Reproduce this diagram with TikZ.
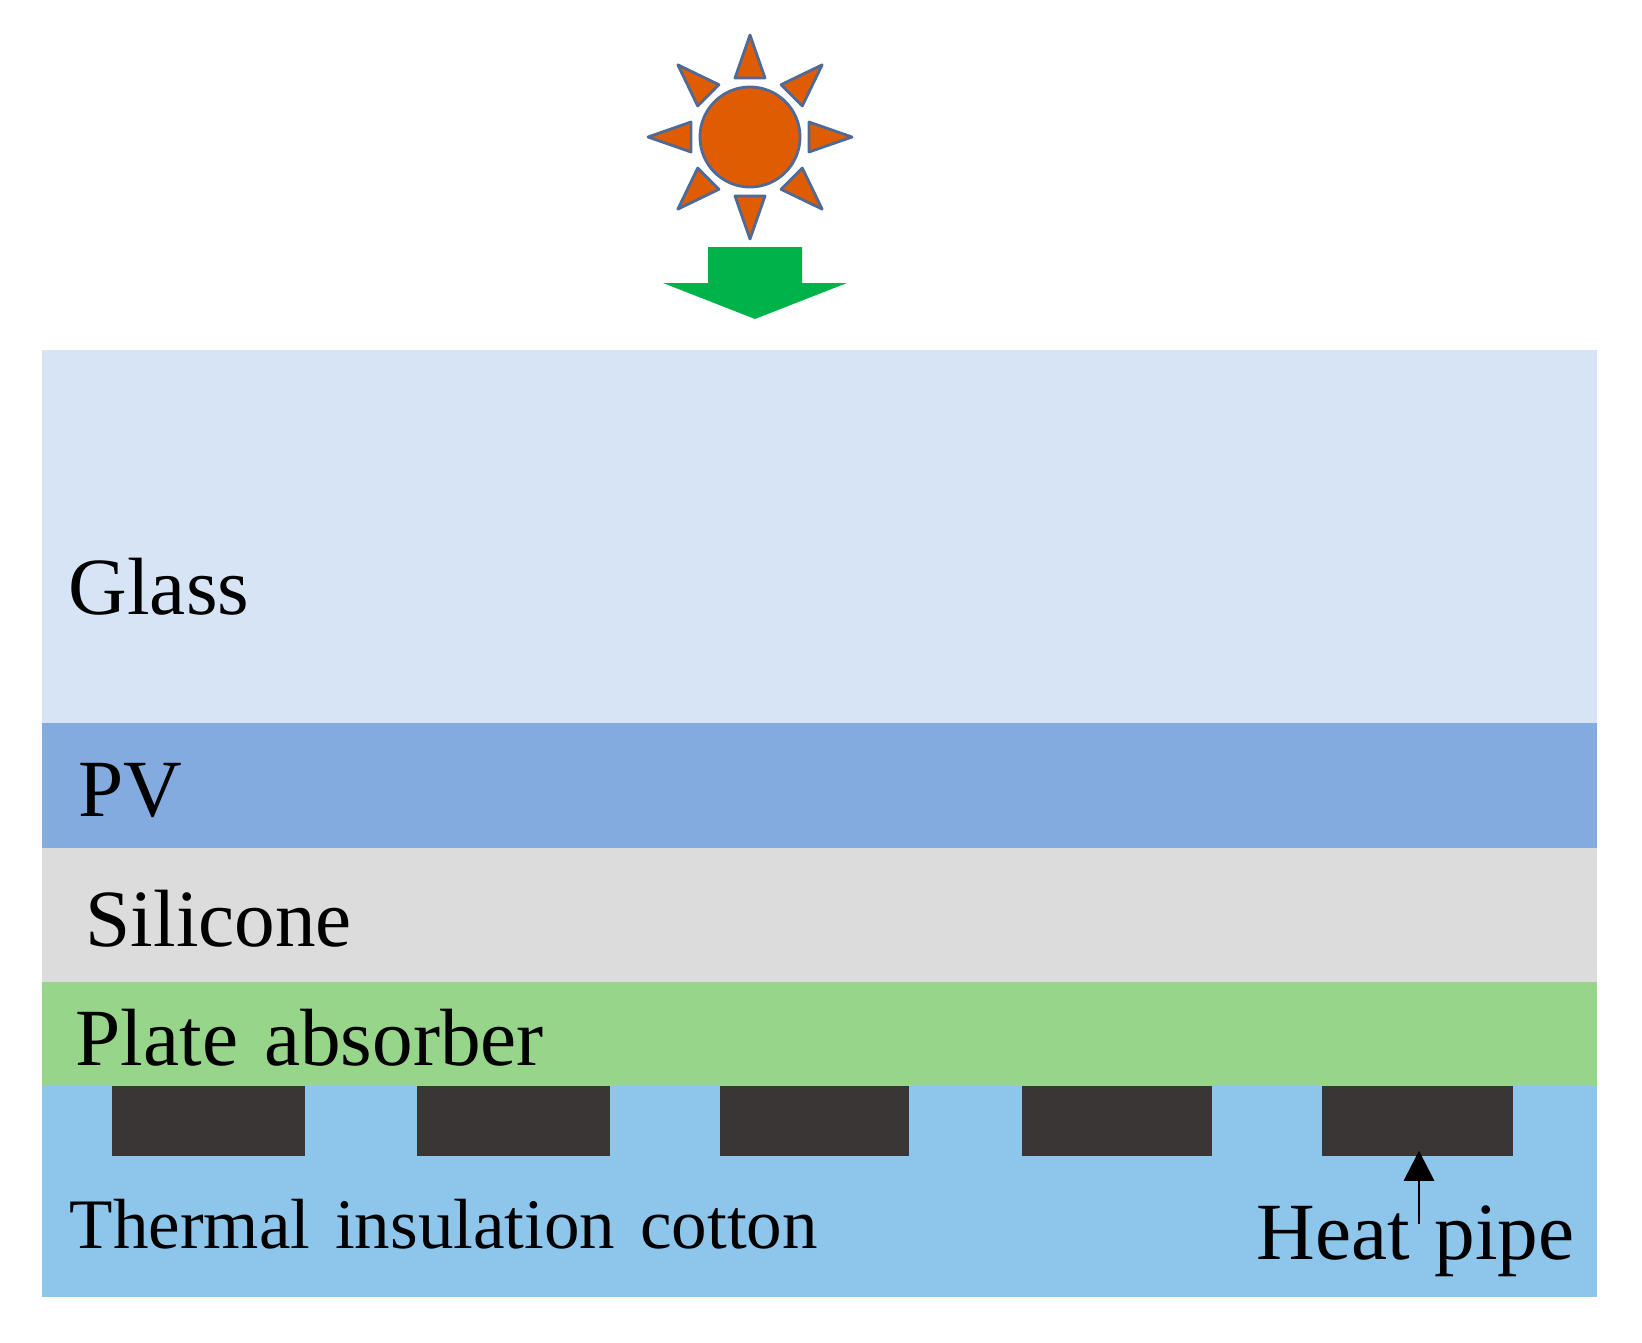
\documentclass[tikz,border=0pt]{standalone}
\usepackage{fontspec}
\setmainfont{Liberation Serif}
\usetikzlibrary{arrows.meta}
\definecolor{mglass}{HTML}{D6E4F5}
\definecolor{mpv}{HTML}{83ABE0}
\definecolor{msilicone}{HTML}{DCDCDC}
\definecolor{mplate}{HTML}{97D58B}
\definecolor{mcotton}{HTML}{8EC5EA}
\definecolor{mpipe}{HTML}{3A3635}
\definecolor{msun}{HTML}{E05C00}
\definecolor{mrim}{HTML}{4F6A96}
\definecolor{mgreen}{HTML}{00B24A}
\tikzset{label text/.style = {anchor=base west, inner sep=0, text=black,
                              font=\fontsize{23.1}{26}\selectfont},
         small text/.style = {label text, font=\fontsize{20.2}{24}\selectfont},
         heat pipe/.style = {fill=mpipe, inner sep=0, minimum height=0.7cm},
         sun ray/.style = {fill=msun, draw=mrim, line width=0.8pt, line join=round}}

\begin{document}
\begin{tikzpicture}[x=0.01cm, y=-0.01cm]
    \useasboundingbox (0, 0) rectangle (1642, 1342);

    \fill [mglass] (42, 350) rectangle (1597, 723);
    \fill [mpv] (42, 723) rectangle (1597, 848);
    \fill [msilicone] (42, 848) rectangle (1597, 982);
    \fill [mplate] (42, 982) rectangle (1597, 1086);
    \fill [mcotton] (42, 1086) rectangle (1597, 1297);

    \node [heat pipe, minimum width=1.93cm] (pipe1) at (208.5, 1121) {};
    \node [heat pipe, minimum width=1.93cm] (pipe2) at (513.5, 1121) {};
    \node [heat pipe, minimum width=1.89cm] (pipe3) at (814.5, 1121) {};
    \node [heat pipe, minimum width=1.90cm] (pipe4) at (1117, 1121) {};
    \node [heat pipe, minimum width=1.91cm] (pipe5) at (1417.5, 1121) {};

    \node [label text] (glass) at (68, 614) {Glass};
    \node [label text] (pv) at (78, 816) {PV};
    \node [label text] (silicone) at (85, 946) {Silicone};
    \node [label text] (plate) at (75, 1065) {Plate\ \hspace{.07em}absorber};
    \node [small text] (cotton) at (69, 1248) {Thermal\ \hspace{.1em}insulation\ \hspace{.1em}cotton};
    \node [label text] (heat) at (1256, 1259) {Heat\ \hspace{.05em}pipe};

    \coordinate (heatend) at (1419, 1224);
    \draw [line width=0.8pt, -{Triangle[length=0.3cm, width=0.3cm]}, shorten >=-0.06cm] (heatend) -- (heatend |- pipe5.south);

    \node [circle, fill=msun, draw=mrim, line width=0.8pt, minimum size=1cm, inner sep=0] (sun) at (750, 137) {};
    \draw [sun ray] (809, 122) -- (852, 137) -- (809, 152) -- cycle;
    \draw [sun ray, rotate around={45:(sun)}] (809, 122) -- (852, 137) -- (809, 152) -- cycle;
    \draw [sun ray, rotate around={90:(sun)}] (809, 122) -- (852, 137) -- (809, 152) -- cycle;
    \draw [sun ray, rotate around={135:(sun)}] (809, 122) -- (852, 137) -- (809, 152) -- cycle;
    \draw [sun ray, rotate around={180:(sun)}] (809, 122) -- (852, 137) -- (809, 152) -- cycle;
    \draw [sun ray, rotate around={225:(sun)}] (809, 122) -- (852, 137) -- (809, 152) -- cycle;
    \draw [sun ray, rotate around={270:(sun)}] (809, 122) -- (852, 137) -- (809, 152) -- cycle;
    \draw [sun ray, rotate around={315:(sun)}] (809, 122) -- (852, 137) -- (809, 152) -- cycle;

    \fill [mgreen] (708, 247) -- (802, 247) -- (802, 283) -- (847, 283) -- (755, 319) -- (663, 283) -- (708, 283) -- cycle;
\end{tikzpicture}
\end{document}
